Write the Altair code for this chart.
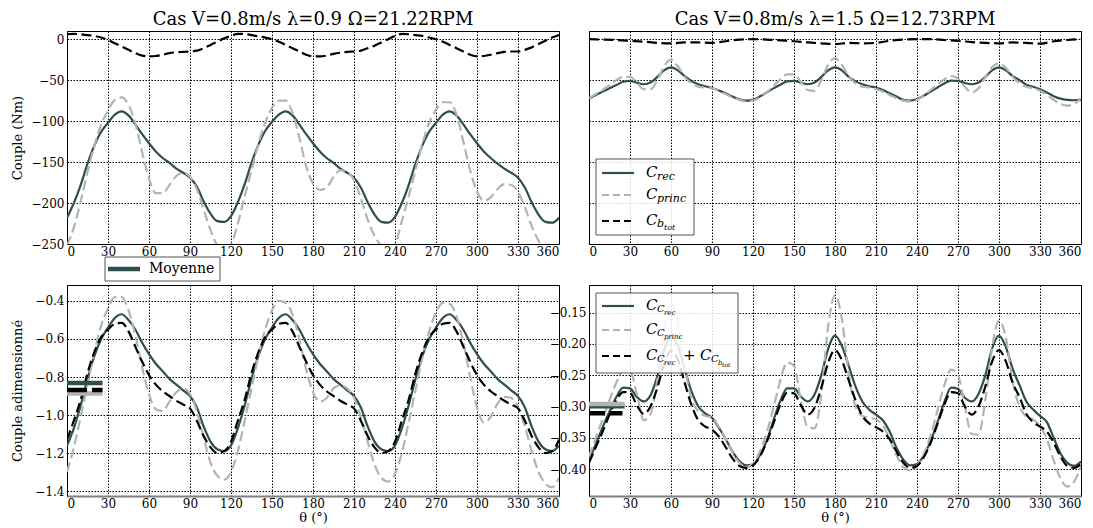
import altair as alt
import pandas as pd

FONT = "DejaVu Serif, Liberation Serif, serif"
TEAL = "#2f4f4f"
GRAY = "#b3b3b3"
BLACK = "#000000"

THETA5 = list(range(0, 361, 5))
THETA10 = list(range(0, 361, 10))
XTICKS = list(range(0, 361, 30))

# ---------------- Top-left: V=0.8 m/s, lambda=0.9 (Nm) ----------------
TL_REC = [
    -218, -200, -178, -152, -130, -113, -102, -92, -88, -93, -104, -116,
    -127, -137, -145, -151, -158, -163, -169, -180, -198, -213, -222, -223,
    -216, -199, -177, -151, -129, -112, -101, -92, -88, -93, -104, -116,
    -127, -137, -145, -151, -158, -163, -169, -181, -199, -214, -223, -224,
    -217, -200, -178, -152, -130, -113, -102, -92, -88, -93, -104, -116,
    -127, -137, -145, -152, -158, -163, -169, -181, -199, -214, -223, -224,
    -218]
TL_PRINC = [
    -252, -230, -198, -162, -130, -104, -87, -74, -71, -80, -103, -138,
    -170, -188, -188, -178, -167, -163, -168, -183, -208, -233, -251, -255,
    -250, -225, -192, -160, -128, -102, -84, -75, -75, -90, -120, -155,
    -176, -184, -181, -168, -160, -162, -172, -194, -220, -240, -252, -256,
    -250, -222, -192, -160, -128, -102, -86, -77, -77, -92, -125, -160,
    -186, -197, -193, -183, -177, -178, -186, -205, -228, -246, -258, -262,
    -254]
TL_BTOT = [
    6, 6.5, 6, 5, 4, 2, -1, -5, -9, -13, -17, -20,
    -21, -20.5, -19, -17, -16, -15.5, -15, -14, -11, -7, -3, 1,
    4, 6.5, 6.5, 5, 3.5, 2, 0, -3, -7, -11, -15, -19,
    -21, -21, -20, -18, -16.5, -15.5, -15, -14, -11, -8, -4, 0,
    4, 6.5, 6, 5, 4, 2, 0, -3, -7, -11, -15, -19,
    -21, -20.5, -19, -17, -15.5, -15, -15, -13, -10, -6, -2, 2,
    5]

# ---------------- Top-right: V=0.8 m/s, lambda=1.5 (Nm) ----------------
TR_REC = [
    -72.5, -68, -64, -60, -56, -52, -51, -53, -55, -53, -46, -38,
    -34.5, -38, -45, -51, -55, -57.5, -59.5, -62.5, -66, -70, -73.5, -75,
    -74, -70, -65, -60, -55.5, -51.5, -51, -53, -55, -53, -46, -38,
    -34.5, -38, -46, -51.5, -55, -57.5, -59, -62, -66, -70, -74, -75,
    -73, -69, -64, -59, -54, -50.5, -51, -53.5, -55, -53, -46, -38,
    -34.5, -38, -45, -50, -55.5, -58, -61, -65, -69.5, -72.5, -74, -74.5,
    -74]
TR_PRINC = [
    -72, -67, -62, -56, -50, -46, -46, -53, -61, -61, -50, -33,
    -25, -33, -46, -54, -58, -59, -60, -63, -67, -71, -74, -76,
    -75, -71, -65, -57, -49, -43, -43, -52, -62, -63, -50, -31,
    -23, -31, -45, -54, -58, -59, -61, -64, -68, -72, -75, -76,
    -74, -69, -62, -55, -49, -45, -48, -58, -65, -60, -46, -34,
    -29.5, -35, -46, -54, -58, -60, -63, -68, -74, -79, -81, -79,
    -72]
TR_BTOT = [
    0, -0.5, -1, -2, -3, -4.5, -5, -4, -4, -4.5, -2.5, -0.5,
    0, -0.5, -1.5, -2.5, -4, -5, -6, -4.5, -5, -4.5, -2, -0.5,
    0, 0, -1, -2, -3.5, -4.5, -5, -4, -4.5, -5.5, -2.5, -1,
    0]

# ---------------- Bottom-left: dimensionless, lambda=0.9 ----------------
BL_REC = [
    -1.16, -1.07, -0.95, -0.81, -0.69, -0.60, -0.54, -0.49, -0.47, -0.50, -0.55, -0.62,
    -0.68, -0.73, -0.77, -0.81, -0.84, -0.87, -0.90, -0.96, -1.06, -1.14, -1.18, -1.19,
    -1.16, -1.07, -0.95, -0.81, -0.69, -0.60, -0.54, -0.49, -0.47, -0.50, -0.55, -0.62,
    -0.68, -0.73, -0.77, -0.81, -0.84, -0.87, -0.90, -0.96, -1.06, -1.14, -1.18, -1.19,
    -1.16, -1.07, -0.95, -0.81, -0.69, -0.60, -0.54, -0.49, -0.47, -0.50, -0.55, -0.62,
    -0.68, -0.73, -0.77, -0.81, -0.84, -0.87, -0.90, -0.96, -1.06, -1.14, -1.18, -1.19,
    -1.16]
BL_PRINC = [
    -1.30, -1.17, -1.01, -0.84, -0.67, -0.53, -0.44, -0.38, -0.38, -0.45, -0.58, -0.75,
    -0.89, -0.97, -0.98, -0.93, -0.88, -0.86, -0.89, -0.98, -1.12, -1.25, -1.32, -1.34,
    -1.30, -1.19, -1.03, -0.86, -0.69, -0.55, -0.45, -0.40, -0.41, -0.47, -0.60, -0.76,
    -0.88, -0.93, -0.91, -0.86, -0.845, -0.86, -0.91, -1.01, -1.14, -1.26, -1.33, -1.35,
    -1.31, -1.20, -1.04, -0.87, -0.70, -0.56, -0.46, -0.41, -0.415, -0.48, -0.62, -0.80,
    -0.96, -1.04, -1.01, -0.94, -0.905, -0.91, -0.96, -1.06, -1.19, -1.30, -1.36, -1.38,
    -1.33]
BL_SUM = [
    -1.13, -1.03, -0.92, -0.78, -0.67, -0.59, -0.55, -0.52, -0.515, -0.56, -0.64, -0.72,
    -0.79, -0.84, -0.875, -0.90, -0.925, -0.945, -0.965, -1.03, -1.11, -1.17, -1.20, -1.19,
    -1.14, -1.03, -0.92, -0.78, -0.67, -0.59, -0.55, -0.52, -0.515, -0.56, -0.64, -0.72,
    -0.79, -0.84, -0.875, -0.90, -0.925, -0.945, -0.965, -1.03, -1.11, -1.17, -1.20, -1.19,
    -1.14, -1.03, -0.92, -0.78, -0.67, -0.59, -0.55, -0.52, -0.515, -0.56, -0.64, -0.72,
    -0.79, -0.84, -0.875, -0.90, -0.925, -0.945, -0.965, -1.03, -1.11, -1.17, -1.20, -1.19,
    -1.13]

# ---------------- Bottom-right: dimensionless, lambda=1.5 ----------------
BR_REC = [
    -0.386, -0.360, -0.333, -0.308, -0.285, -0.270, -0.271, -0.285, -0.292, -0.282, -0.252, -0.210,
    -0.188, -0.203, -0.240, -0.276, -0.300, -0.311, -0.318, -0.334, -0.352, -0.372, -0.387, -0.394,
    -0.393, -0.378, -0.355, -0.322, -0.291, -0.271, -0.271, -0.284, -0.292, -0.281, -0.250, -0.208,
    -0.187, -0.203, -0.235, -0.268, -0.292, -0.305, -0.313, -0.322, -0.340, -0.366, -0.385, -0.394,
    -0.392, -0.378, -0.355, -0.325, -0.293, -0.270, -0.272, -0.286, -0.292, -0.280, -0.250, -0.207,
    -0.187, -0.205, -0.240, -0.266, -0.292, -0.305, -0.315, -0.325, -0.350, -0.375, -0.390, -0.395,
    -0.388]
BR_PRINC = [
    -0.380, -0.350, -0.320, -0.290, -0.262, -0.243, -0.243, -0.280, -0.322, -0.312, -0.258, -0.178,
    -0.135, -0.165, -0.235, -0.288, -0.308, -0.315, -0.318, -0.332, -0.352, -0.373, -0.390, -0.397,
    -0.391, -0.372, -0.342, -0.302, -0.258, -0.230, -0.235, -0.290, -0.333, -0.335, -0.280, -0.172,
    -0.122, -0.160, -0.248, -0.300, -0.315, -0.318, -0.321, -0.330, -0.352, -0.378, -0.397, -0.402,
    -0.395, -0.376, -0.346, -0.306, -0.266, -0.241, -0.250, -0.300, -0.344, -0.345, -0.290, -0.205,
    -0.163, -0.190, -0.260, -0.300, -0.316, -0.321, -0.331, -0.352, -0.386, -0.415, -0.428, -0.420,
    -0.396]
BR_SUM = [
    -0.390, -0.365, -0.340, -0.313, -0.290, -0.277, -0.278, -0.298, -0.312, -0.300, -0.270, -0.232,
    -0.211, -0.225, -0.262, -0.298, -0.322, -0.332, -0.337, -0.348, -0.365, -0.383, -0.395, -0.398,
    -0.394, -0.380, -0.357, -0.327, -0.297, -0.278, -0.279, -0.298, -0.313, -0.302, -0.270, -0.230,
    -0.210, -0.226, -0.258, -0.290, -0.315, -0.327, -0.333, -0.340, -0.352, -0.372, -0.390, -0.398,
    -0.395, -0.381, -0.358, -0.328, -0.297, -0.277, -0.279, -0.300, -0.313, -0.300, -0.268, -0.228,
    -0.210, -0.228, -0.262, -0.285, -0.312, -0.325, -0.332, -0.340, -0.358, -0.380, -0.395, -0.398,
    -0.392]

# mean values (short thick bars at the left of the lower panels)
MEAN_SPAN = [0, 26]
BL_MEANS = {"rec": -0.831, "princ": -0.887, "sum": -0.869}
BR_MEANS = {"rec": -0.2995, "princ": -0.296, "sum": -0.311}

W = 492
H_TOP = 213
H_BOT = 211
DUMMY = pd.DataFrame({"k": [0]})


def x_enc(title=None, bottom=False):
    axis_kw = dict(values=XTICKS, title=title, labelPadding=2, titlePadding=2)
    if bottom:
        axis_kw.update(domain=True, domainColor="#808080", domainWidth=2)
    return alt.X("theta:Q", scale=alt.Scale(domain=[0, 360], nice=False, zero=False),
                 axis=alt.Axis(**axis_kw))


def y_enc(domain, ticks, fmt, title=None, labels=True, tpad=8):
    axis_kw = dict(values=ticks, title=title, format=fmt, labelPadding=3, titlePadding=tpad)
    if not labels:
        axis_kw["labels"] = False
    return alt.Y("value:Q", scale=alt.Scale(domain=domain, nice=False, zero=False),
                 axis=alt.Axis(**axis_kw))


def curve(theta, vals, color, X, Y, dash=None, width=2.2):
    df = pd.DataFrame({"theta": theta, "value": vals})
    kw = dict(color=color, strokeWidth=width, interpolate="monotone", clip=True)
    if dash:
        kw["strokeDash"] = dash
    return alt.Chart(df).mark_line(**kw).encode(x=X, y=Y)


def mean_bar(val, color, X, Y, dash=None, span=MEAN_SPAN):
    df = pd.DataFrame({"theta": [span[0]], "theta2": [span[1]], "value": [val]})
    kw = dict(color=color, strokeWidth=4.5, strokeCap="butt")
    if dash:
        kw["strokeDash"] = dash
    return alt.Chart(df).mark_rule(**kw).encode(x=X, x2="theta2:Q", y=Y)


def txt(s, x, y, size=15, italic=True, align="left"):
    kw = dict(text=s, font=FONT, fontSize=size, align=align, baseline="middle", color="black")
    if italic:
        kw["fontStyle"] = "italic"
    return alt.Chart(DUMMY).mark_text(**kw).encode(x=alt.value(x), y=alt.value(y))


def hline(x1, x2, y, color, dash=None, width=2.2):
    kw = dict(color=color, strokeWidth=width)
    if dash:
        kw["strokeDash"] = dash
    return alt.Chart(DUMMY).mark_rule(**kw).encode(x=alt.value(x1), x2=alt.value(x2), y=alt.value(y))


def box(x1, x2, y1, y2, opacity=0.85):
    return alt.Chart(DUMMY).mark_rect(fill="white", fillOpacity=opacity, stroke="#555555",
                                      strokeWidth=1).encode(
        x=alt.value(x1), x2=alt.value(x2), y=alt.value(y1), y2=alt.value(y2))


DASH = [10, 4.5]


def title(text):
    return alt.TitleParams(text, font=FONT, fontSize=18, fontWeight="normal",
                           color="black", offset=2, anchor="middle")


# ---------- top-left ----------
X_tl = x_enc()
Y_tl = y_enc([-250, 10], [-250, -200, -150, -100, -50, 0], "d", title="Couple (Nm)", tpad=7)
top_left = alt.layer(
    curve(THETA5, TL_REC, TEAL, X_tl, Y_tl),
    curve(THETA5, TL_PRINC, GRAY, X_tl, Y_tl, dash=DASH),
    curve(THETA5, TL_BTOT, BLACK, X_tl, Y_tl, dash=DASH),
).properties(width=W, height=H_TOP, title=title("Cas V=0.8m/s λ=0.9 Ω=21.22RPM"))

# ---------- top-right ----------
X_tr = x_enc()
Y_tr = y_enc([-250, 10], [-250, -200, -150, -100, -50, 0], "d", labels=False)
top_right = alt.layer(
    curve(THETA5, TR_REC, TEAL, X_tr, Y_tr),
    curve(THETA5, TR_PRINC, GRAY, X_tr, Y_tr, dash=DASH),
    curve(THETA10, TR_BTOT, BLACK, X_tr, Y_tr, dash=DASH),
    box(7, 105, 128, 204),
    hline(13, 45, 142, TEAL),
    hline(13, 45, 164, GRAY, dash=[7, 4]),
    hline(13, 45, 190, BLACK, dash=[7, 4]),
    txt("C", 57, 141), txt("rec", 68, 146, size=11),
    txt("C", 57, 163), txt("princ", 68, 168, size=11),
    txt("C", 57, 189), txt("b", 68, 193, size=11), txt("tot", 75, 197, size=8),
).properties(width=W, height=H_TOP, title=title("Cas V=0.8m/s λ=1.5 Ω=12.73RPM"))

# ---------- bottom-left ----------
X_bl = x_enc(title="θ (°)", bottom=True)
Y_bl = y_enc([-1.426, -0.316], [-1.4, -1.2, -1.0, -0.8, -0.6, -0.4], ".1f",
             title="Couple adimensionné", tpad=10)
bottom_left = alt.layer(
    curve(THETA5, BL_REC, TEAL, X_bl, Y_bl),
    curve(THETA5, BL_PRINC, GRAY, X_bl, Y_bl, dash=DASH),
    curve(THETA5, BL_SUM, BLACK, X_bl, Y_bl, dash=DASH),
    mean_bar(BL_MEANS["rec"], TEAL, X_bl, Y_bl),
    mean_bar(BL_MEANS["princ"], GRAY, X_bl, Y_bl),
    mean_bar(BL_MEANS["sum"], BLACK, X_bl, Y_bl, dash=[20, 5]),
    box(38, 153, -28, -4, opacity=1),
    hline(41, 73, -16, TEAL, width=4.5),
    txt("Moyenne", 82, -16, size=14, italic=False),
).properties(width=W, height=H_BOT)

# ---------- bottom-right ----------
X_br = x_enc(title="θ (°)", bottom=True)
Y_br = y_enc([-0.443, -0.106], [-0.40, -0.35, -0.30, -0.25, -0.20, -0.15], ".2f")
bottom_right = alt.layer(
    curve(THETA5, BR_REC, TEAL, X_br, Y_br),
    curve(THETA5, BR_PRINC, GRAY, X_br, Y_br, dash=DASH),
    curve(THETA5, BR_SUM, BLACK, X_br, Y_br, dash=DASH),
    mean_bar(BR_MEANS["rec"], TEAL, X_br, Y_br),
    mean_bar(BR_MEANS["princ"], GRAY, X_br, Y_br),
    mean_bar(BR_MEANS["sum"], BLACK, X_br, Y_br, dash=[16, 5], span=[0, 24.5]),
    box(7, 149, 8, 88),
    hline(13, 45, 21, TEAL),
    hline(13, 45, 45, GRAY, dash=[7, 4]),
    hline(13, 45, 71, BLACK, dash=[7, 4]),
    txt("C", 57, 20), txt("C", 68, 24, size=10), txt("rec", 75, 28, size=7),
    txt("C", 57, 44), txt("C", 68, 48, size=10), txt("princ", 75, 52, size=7),
    txt("C", 57, 70), txt("C", 68, 74, size=10), txt("rec", 75, 78, size=7),
    txt("+", 94, 70, size=15, italic=False),
    txt("C", 111, 70), txt("C", 122, 74, size=10), txt("b", 129, 78, size=7),
    txt("tot", 133, 80, size=6),
).properties(width=W, height=H_BOT)

chart = alt.concat(
    top_left, top_right, bottom_left, bottom_right,
    columns=2, spacing={"row": 41, "column": 30}, bounds="flush",
).properties(
    padding={"left": 2, "top": 2, "right": 0, "bottom": 0},
    background="white",
).configure_view(
    stroke="black", strokeWidth=1
).configure_axis(
    labelFont=FONT, labelFontSize=12, labelColor="black",
    titleFont=FONT, titleFontSize=13, titleFontWeight="normal", titleColor="black",
    grid=True, gridColor="black", gridDash=[1.5, 1.5], gridOpacity=1, gridWidth=1,
    ticks=False, domain=False,
)

chart.save("out.html", embed_options={"renderer": "svg", "actions": False})
